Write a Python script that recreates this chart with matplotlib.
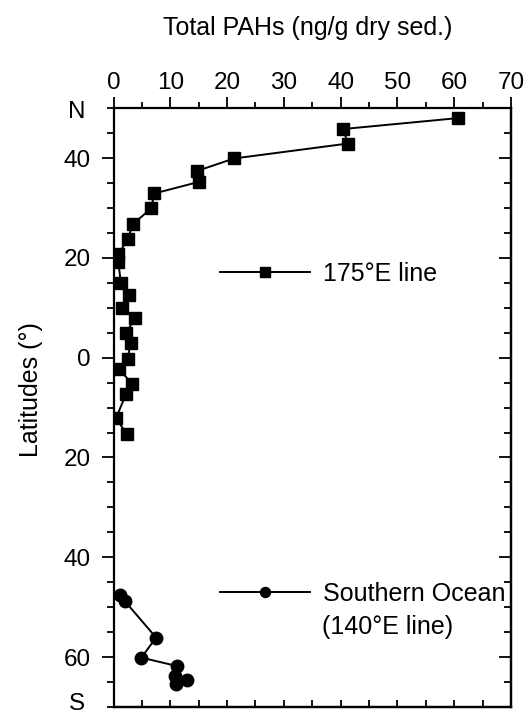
import matplotlib
matplotlib.use("Agg")
import matplotlib.pyplot as plt
import matplotlib.transforms as mtransforms

plt.rcParams['font.family'] = ['Liberation Sans', 'DejaVu Sans']

# 175°E line (latitude in degrees, negative = south)
lat_175e = [48.0, 45.8, 42.9, 39.9, 37.4, 35.2, 32.9, 29.9, 26.7, 23.7, 20.7, 19.1,
            14.9, 12.6, 9.9, 7.9, 4.9, 2.9, -0.2, -2.3, -5.3, -7.3, -12.1, -15.3]
pah_175e = [60.7, 40.4, 41.3, 21.2, 14.7, 15.0, 7.2, 6.6, 3.4, 2.5, 0.85, 0.85,
            1.3, 2.7, 1.55, 3.8, 2.2, 3.0, 2.5, 1.0, 3.3, 2.2, 0.45, 2.3]

# Southern Ocean (140°E line)
lat_so = [-47.6, -48.8, -56.1, -60.1, -61.8, -63.8, -64.6, -65.4]
pah_so = [1.15, 2.0, 7.5, 4.9, 11.2, 10.9, 13.0, 11.0]

x_ticks = [0, 10, 20, 30, 40, 50, 60, 70]
y_ticks = [40, 20, 0, -20, -40, -60]
y_ticklabels = ['40', '20', '0', '20', '40', '60']

fig = plt.figure(figsize=(5.29, 7.13), dpi=100)
ax = fig.add_axes([0.2146, 0.0084, 0.7514, 0.840])

l1, = ax.plot(pah_175e, lat_175e, '-', color='black', lw=1.4,
              marker='s', ms=9, label='175°E line')
l2, = ax.plot(pah_so, lat_so, '-', color='black', lw=1.4,
              marker='o', ms=9, label='Southern Ocean')

ax.set_xlim(0, 70)
ax.set_ylim(-70, 50)

# top x axis, outward ticks
ax.xaxis.tick_top()
ax.set_xticks(x_ticks)
ax.set_xticks(range(5, 70, 10), minor=True)
ax.tick_params(axis='x', which='major', direction='out', length=8, width=1.3,
               labelsize=17.5, pad=2)
ax.tick_params(axis='x', which='minor', direction='out', length=4.5, width=1.3)

# left y axis, outward ticks
ax.set_yticks(y_ticks)
ax.set_yticklabels(y_ticklabels)
ax.set_yticks(range(-70, 51, 5), minor=True)
ax.tick_params(axis='y', which='major', direction='out', length=8.5, width=1.3,
               labelsize=17.5, pad=8)
ax.tick_params(axis='y', which='minor', direction='out', length=4.7, width=1.3)

# bottom and right: inward ticks, no labels
bot = ax.secondary_xaxis('bottom')
bot.set_xticks(range(0, 71, 5))
bot.tick_params(direction='in', length=5, width=1.3, labelbottom=False)
right = ax.secondary_yaxis('right')
right.set_yticks(y_ticks)
right.set_yticks(range(-70, 51, 5), minor=True)
right.tick_params(which='major', direction='in', length=8.5, width=1.3, labelright=False)
right.tick_params(which='minor', direction='in', length=4.7, width=1.3)

for sp in list(ax.spines.values()) + [bot.spines['bottom'], right.spines['right']]:
    sp.set_linewidth(1.6)

# N / S labels
trans = mtransforms.blended_transform_factory(ax.transAxes, ax.transData)
ax.text(-0.092, 49.3, 'N', transform=trans, ha='center', va='center', fontsize=17.5)
ax.text(-0.092, -69.3, 'S', transform=trans, ha='center', va='center', fontsize=17.5)

ax.set_ylabel('Latitudes (°)', fontsize=18)
ax.yaxis.set_label_coords(-0.177, 0.53)

fig.text(308 / 529, 1 - 28 / 713, 'Total PAHs (ng/g dry sed.)', ha='center',
         va='center', fontsize=18)

leg1 = ax.legend(handles=[l1], loc='center left', bbox_to_anchor=(18.8, 16.8),
                 bbox_transform=ax.transData, frameon=False, fontsize=18,
                 handlelength=3.6, handletextpad=0.5, borderpad=0,
                 borderaxespad=0, markerscale=0.8)
ax.add_artist(leg1)
ax.legend(handles=[l2], loc='center left', bbox_to_anchor=(18.8, -47.4),
          bbox_transform=ax.transData, frameon=False, fontsize=18,
          handlelength=3.6, handletextpad=0.5, borderpad=0,
          borderaxespad=0, markerscale=0.8)
ax.text(36.8, -53.9, '(140°E line)', ha='left', va='center', fontsize=18)

fig.savefig('out.png', dpi=100)
